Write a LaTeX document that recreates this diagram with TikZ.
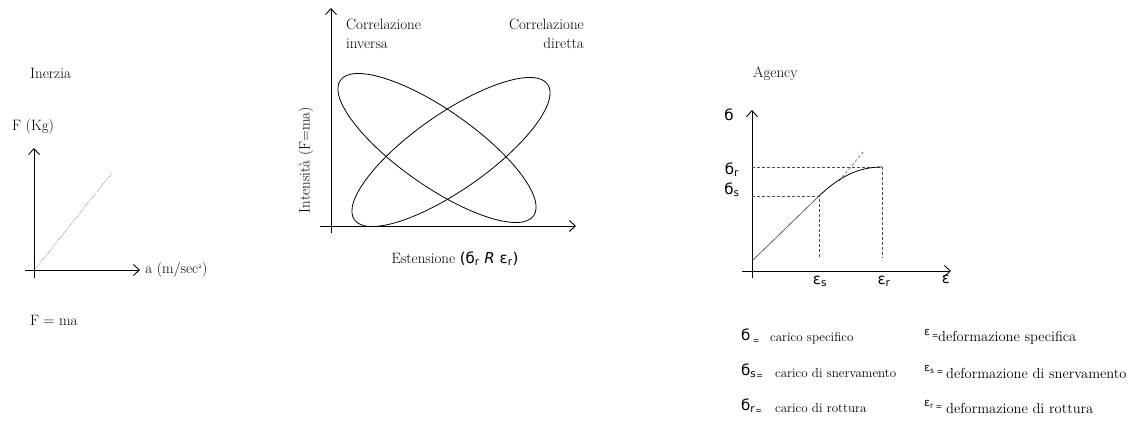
\documentclass[tikz,border=0pt]{standalone}
\usepackage{fontspec}
\newfontfamily\symfont{DejaVu Sans}
\usetikzlibrary{arrows.meta}

\newcommand{\lowereq}{\raisebox{-3pt}{\fontsize{8}{8}\selectfont =}}

\tikzset{
  axisarrow/.style={-{Straight Barb[length=6pt,width=11pt]}, line width=0.9pt},
  guide/.style={dash pattern=on 3pt off 2pt, line width=0.5pt, black!70},
  lbl/.style={inner sep=0pt, font=\fontsize{15}{19}\selectfont},
  legend/.style={inner sep=0pt, font=\fontsize{13}{15}\selectfont},
  legendwide/.style={inner sep=0pt, font=\fontsize{14.5}{16}\selectfont},
  sym/.style={inner sep=0pt, font=\symfont\fontsize{15}{18}\selectfont},
  smallsym/.style={inner sep=0pt, font=\symfont\fontsize{11}{12}\selectfont},
}

\begin{document}
\begin{tikzpicture}[x=1pt, y=-1pt]
  \useasboundingbox (0,0) rectangle (1134,425);

  % Inerzia
  \node[lbl, anchor=west] (inerzia) at (30,73) {Inerzia};
  \node[lbl, anchor=west] (forza) at (12,127) {F (Kg)};
  \draw[axisarrow] (34,278) -- (34,148);
  \draw[axisarrow] (25,270) -- (140,270) node[lbl, anchor=west, xshift=5pt] (acc) {a (m/sec\textsuperscript{\fontsize{5}{5}\selectfont 2})};
  \draw[densely dotted, line width=0.5pt, black!70] (36,268) -- (112,173);
  \node[lbl, anchor=west] (legge) at (30,320) {F = ma};

  % Correlazioni
  \draw[axisarrow] (331,233) -- (331,8);
  \draw[axisarrow] (320,226) -- (576,226);
  \draw[line width=0.8pt, rotate around={-35:(437,148)}] (437,148) ellipse [x radius=118, y radius=38];
  \draw[line width=0.8pt, rotate around={35:(451,152)}] (451,152) ellipse [x radius=118, y radius=38];
  \node[lbl, anchor=west, align=left] (inversa) at (346,34) {Correlazione\\inversa};
  \node[lbl, anchor=east, align=right] (diretta) at (584,34) {Correlazione\\diretta};
  \node[lbl, rotate=90] (intens) at (306,160) {Intensità (F=ma)};
  \node[lbl] (estens) at (455,259) {Estensione {\symfont(б\textsubscript{r} \textit{R} ε\textsubscript{r})}};

  % Agency
  \node[lbl, anchor=west] (agency) at (753,74) {Agency};
  \draw[axisarrow] (752,278) -- (752,110);
  \draw[axisarrow] (742,271) -- (951,271);
  \coordinate (snerv) at (819,196);
  \coordinate (rott) at (882,167);
  \draw[guide] (752,167) -- (rott) -- (882,258);
  \draw[guide] (752,196) -- (snerv) -- (819,258);
  \draw[guide] (839,181) -- (864,151);
  \draw[line width=0.6pt, black!75] (752,261) -- (snerv);
  \draw[line width=0.8pt] (snerv) .. controls (838,178) and (857,167) .. (rott);
  \node[sym] (sig) at (729,115) {б};
  \node[sym] (sigr) at (732,170) {б\textsubscript{r}};
  \node[sym] (sigs) at (732,190) {б\textsubscript{s}};
  \node[sym] (epss) at (820,281) {ε\textsubscript{s}};
  \node[sym] (epsr) at (884,281) {ε\textsubscript{r}};
  \node[sym] (eps) at (946,279) {ε};

  % Legenda
  \node[sym, anchor=west] (l1s) at (741,336) {б\,\lowereq};
  \node[legend, anchor=west] (l1t) at (770,338) {carico specifico};
  \node[sym, anchor=west] (l2s) at (741,371) {б\textsubscript{s}\lowereq};
  \node[legend, anchor=west] (l2t) at (775,373) {carico di snervamento};
  \node[sym, anchor=west] (l3s) at (741,406) {б\textsubscript{r}\lowereq};
  \node[legend, anchor=west] (l3t) at (775,408) {carico di rottura};
  \node[smallsym, anchor=west] (r1s) at (924,334) {ε\,\lowereq};
  \node[legendwide, anchor=west] (r1t) at (938,338) {deformazione specifica};
  \node[smallsym, anchor=west] (r2s) at (924,370) {ε\textsubscript{s}\,\lowereq};
  \node[legendwide, anchor=west] (r2t) at (946,373) {deformazione di snervamento};
  \node[smallsym, anchor=west] (r3s) at (924,405) {ε\textsubscript{r}\,\lowereq};
  \node[legendwide, anchor=west] (r3t) at (946,408) {deformazione di rottura};
\end{tikzpicture}
\end{document}
